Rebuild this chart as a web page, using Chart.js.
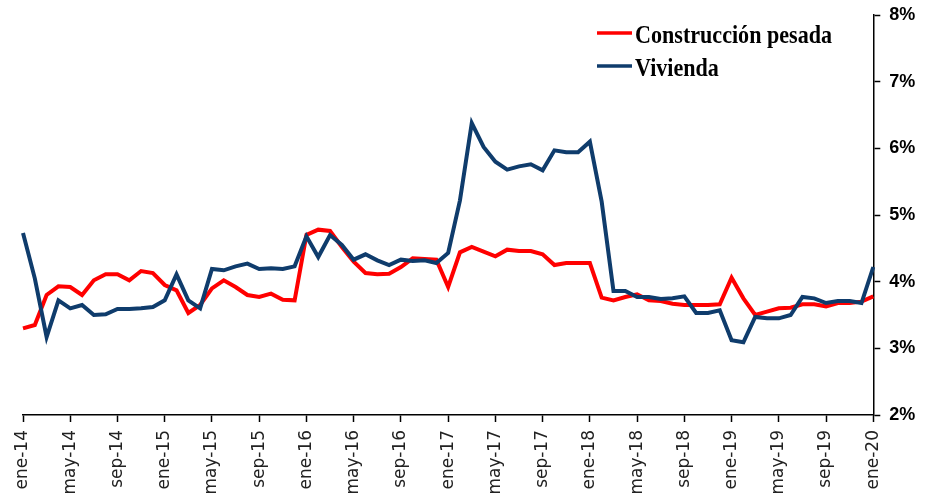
<!DOCTYPE html>
<html>
<head>
<meta charset="utf-8">
<script src="https://cdn.jsdelivr.net/npm/chart.js@4/dist/chart.umd.min.js"></script>
<style>
  html, body { margin: 0; padding: 0; background: #fff; }
  #chart { display: block; }
</style>
</head>
<body>
<canvas id="chart" width="932" height="497"></canvas>
<script>
const MONTHS = ["ene", "feb", "mar", "abr", "may", "jun", "jul", "ago", "sep", "oct", "nov", "dic"];
const YEARS = ["14", "15", "16", "17", "18", "19", "20"];
const Y_TICKS = [2, 3, 4, 5, 6, 7, 8];

// ene-14 .. ene-20, mensual
const labels = [];
YEARS.forEach((year) => MONTHS.forEach((month) => labels.push(month + "-" + year)));
labels.length = 73;

const pesada = [
  3.30, 3.35, 3.80, 3.93, 3.92, 3.80, 4.02, 4.11, 4.11, 4.02, 4.16, 4.13,
  3.95, 3.87, 3.53, 3.65, 3.90, 4.02, 3.92, 3.80, 3.77, 3.82, 3.73, 3.72,
  4.70, 4.78, 4.76, 4.52, 4.30, 4.13, 4.11, 4.12, 4.22, 4.35, 4.34, 4.33,
  3.92, 4.44, 4.52, 4.45, 4.38, 4.48, 4.46, 4.46, 4.41, 4.25, 4.28, 4.28,
  4.28, 3.76, 3.72, 3.77, 3.81, 3.72, 3.71, 3.67, 3.65, 3.65, 3.65, 3.66,
  4.06, 3.75, 3.50, 3.55, 3.60, 3.61, 3.66, 3.66, 3.63, 3.68, 3.68, 3.70,
  3.78
];
const vivienda = [
  4.73, 4.05, 3.17, 3.72, 3.60, 3.65, 3.50, 3.51, 3.59, 3.59, 3.60, 3.62,
  3.72, 4.11, 3.72, 3.60, 4.19, 4.17, 4.23, 4.27, 4.19, 4.20, 4.19, 4.23,
  4.68, 4.37, 4.70, 4.55, 4.33, 4.41, 4.32, 4.25, 4.33, 4.31, 4.32, 4.28,
  4.43, 5.22, 6.38, 6.02, 5.80, 5.68, 5.73, 5.76, 5.67, 5.97, 5.94, 5.94,
  6.10, 5.20, 3.86, 3.86, 3.77, 3.77, 3.74, 3.75, 3.78, 3.53, 3.53, 3.57,
  3.12, 3.09, 3.47, 3.45, 3.45, 3.50, 3.77, 3.75, 3.68, 3.71, 3.71, 3.68,
  4.22
];

const COLORS = { red: "#FF0000", blue: "#0F3C6C", axis: "#000000", label: "#222222" };

// leyenda dentro del área del gráfico, texto serif estrecho
const insideLegend = {
  id: "insideLegend",
  afterDraw(chart) {
    const ctx = chart.ctx;
    const left = 597, top = 33, rowGap = 33, lineLen = 35;
    ctx.save();
    chart.data.datasets.forEach((ds, i) => {
      const y = top + i * rowGap;
      ctx.strokeStyle = ds.borderColor;
      ctx.lineWidth = 3.5;
      ctx.beginPath();
      ctx.moveTo(left, y);
      ctx.lineTo(left + lineLen, y);
      ctx.stroke();
      ctx.save();
      ctx.translate(left + lineLen + 3, y + 10);
      ctx.scale(0.85, 1);
      ctx.font = "bold 26px 'Liberation Serif', serif";
      ctx.fillStyle = "#000";
      ctx.textBaseline = "alphabetic";
      ctx.fillText(ds.label, 0, 0);
      ctx.restore();
    });
    ctx.restore();
  }
};

new Chart(document.getElementById("chart"), {
  type: "line",
  data: {
    labels,
    datasets: [
      { label: "Construcción pesada", data: pesada, borderColor: COLORS.red, backgroundColor: COLORS.red,
        borderWidth: 4, pointRadius: 0, tension: 0, order: 1 },
      { label: "Vivienda", data: vivienda, borderColor: COLORS.blue, backgroundColor: COLORS.blue,
        borderWidth: 4, pointRadius: 0, tension: 0, order: 0 }
    ]
  },
  options: {
    responsive: false,
    animation: false,
    layout: { padding: { left: 23, top: 15, right: 0, bottom: 0 } },
    plugins: { legend: { display: false }, tooltip: { enabled: false } },
    scales: {
      x: {
        offset: false,
        afterFit: (scale) => { scale.height = 82; },
        grid: { display: true, drawOnChartArea: false, drawTicks: true, tickLength: 7, color: COLORS.axis, tickWidth: 1.5 },
        border: { display: true, color: COLORS.axis, width: 1.5 },
        ticks: {
          autoSkip: false, minRotation: 90, maxRotation: 90, padding: 8, color: COLORS.label,
          font: { family: "'DejaVu Sans', sans-serif", size: 17 },
          callback: (value, index) => (index % 4 === 0 ? labels[index] : null)
        }
      },
      y: {
        position: "right",
        min: Y_TICKS[0], max: Y_TICKS[Y_TICKS.length - 1],
        afterFit: (scale) => { scale.width = 58.7; scale.paddingTop = 0; scale.paddingBottom = 0; },
        afterBuildTicks: (scale) => { scale.ticks = Y_TICKS.map((v) => ({ value: v })); },
        grid: { display: true, drawOnChartArea: false, drawTicks: true, tickLength: 7, color: COLORS.axis, tickWidth: 1.5 },
        border: { display: true, color: COLORS.axis, width: 1.5 },
        ticks: {
          padding: 9, color: "#000",
          font: { family: "'Liberation Sans', Arial, sans-serif", size: 18, weight: "bold" },
          callback: (value) => value + "%"
        }
      }
    }
  },
  plugins: [insideLegend]
});
</script>
</body>
</html>
